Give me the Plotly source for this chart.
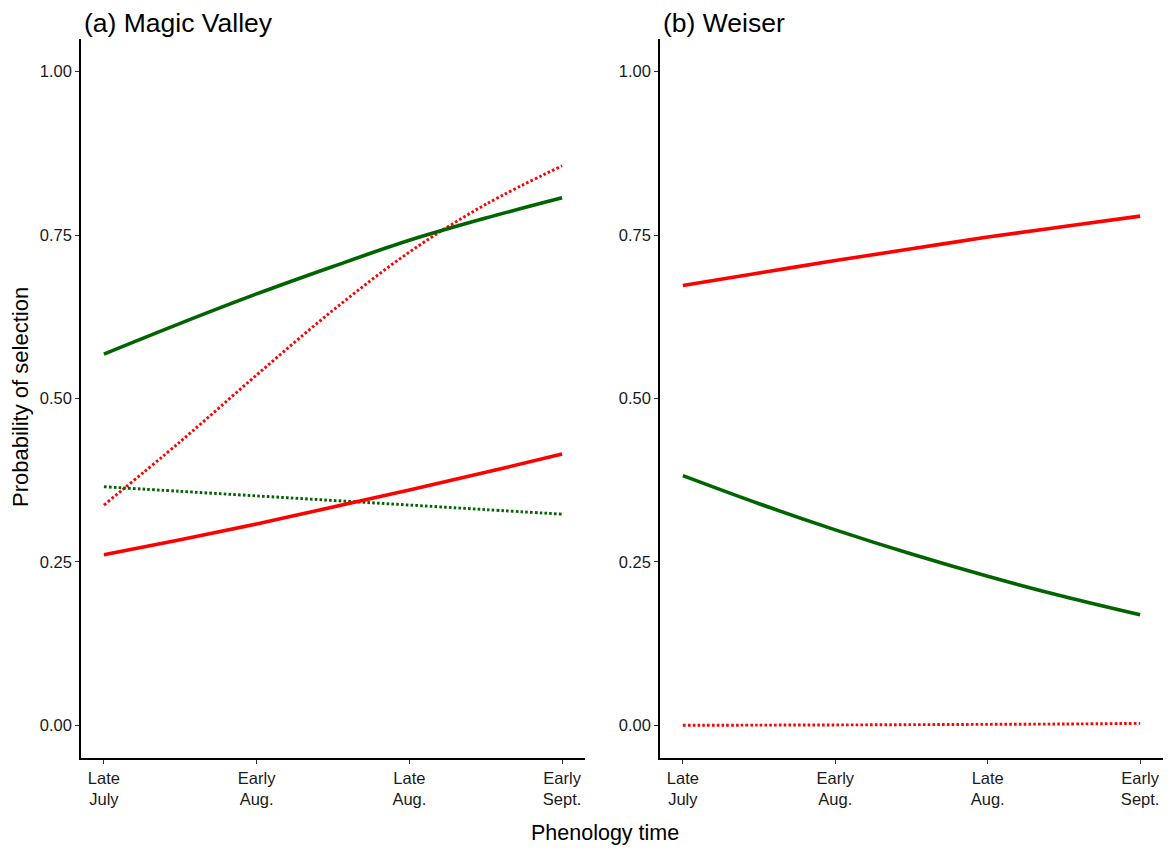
import plotly.graph_objects as go

# Phenology periods (x positions 1..4) with readings at half-period steps
phenology_x = [1, 1.5, 2, 2.5, 3, 3.5, 4]
tick_vals = [1, 2, 3, 4]
tick_text = ["Late<br>July", "Early<br>Aug.", "Late<br>Aug.", "Early<br>Sept."]
y_ticks = [0, 0.25, 0.5, 0.75, 1.0]
y_tick_text = ["0.00", "0.25", "0.50", "0.75", "1.00"]

# (a) Magic Valley
mv_green_solid = [0.568, 0.615, 0.660, 0.702, 0.742, 0.776, 0.807]
mv_green_dot = [0.365, 0.358, 0.351, 0.344, 0.337, 0.330, 0.323]
mv_red_solid = [0.261, 0.284, 0.308, 0.334, 0.360, 0.387, 0.415]
mv_red_dot = [0.337, 0.434, 0.536, 0.635, 0.724, 0.797, 0.856]

# (b) Weiser
we_green_solid = [0.382, 0.339, 0.299, 0.262, 0.228, 0.197, 0.169]
we_red_solid = [0.673, 0.692, 0.711, 0.729, 0.747, 0.763, 0.779]
we_red_dot = [0.000, 0.0003, 0.0006, 0.001, 0.0015, 0.002, 0.003]

GREEN = "#006400"
RED = "#FF0000"
FONT = "Liberation Sans, Arial, sans-serif"

W, H = 1171, 851

fig = go.Figure()


def add_line(y, color, dotted, xa, ya):
    if dotted:
        line = dict(color=color, width=2.9, dash="2.6px,2.2px", shape="spline")
    else:
        line = dict(color=color, width=3.6, shape="spline")
    fig.add_trace(go.Scatter(x=phenology_x, y=y, mode="lines", line=line,
                             xaxis=xa, yaxis=ya, showlegend=False,
                             hoverinfo="skip"))


add_line(mv_red_dot, RED, True, "x", "y")
add_line(mv_green_dot, GREEN, True, "x", "y")
add_line(mv_red_solid, RED, False, "x", "y")
add_line(mv_green_solid, GREEN, False, "x", "y")

add_line(we_red_dot, RED, True, "x2", "y2")
add_line(we_green_solid, GREEN, False, "x2", "y2")
add_line(we_red_solid, RED, False, "x2", "y2")

# panel geometry in pixels
left_a, right_a = 81, 585
left_b, right_b = 660, 1163
top_px, bottom_px = 39, 758

ydom = [1 - bottom_px / H, 1 - top_px / H]

xaxis_common = dict(
    range=[0.85, 4.15], tickvals=tick_vals, ticktext=tick_text,
    showgrid=False, zeroline=False, showline=True, linecolor="black",
    linewidth=1.5, ticks="outside", ticklen=4, tickcolor="#333333",
    tickwidth=1.2, tickfont=dict(family=FONT, size=16.5, color="#1a1a1a"),
    fixedrange=True,
)
yaxis_common = dict(
    range=[-0.05, 1.05], tickvals=y_ticks, ticktext=y_tick_text,
    showgrid=False, zeroline=False, showline=True, linecolor="black",
    linewidth=1.5, ticks="outside", ticklen=4, tickcolor="#333333",
    tickwidth=1.2, tickfont=dict(family=FONT, size=16.5, color="#1a1a1a"),
    domain=ydom, fixedrange=True,
)

fig.update_layout(
    width=W, height=H,
    margin=dict(l=0, r=0, t=0, b=0),
    paper_bgcolor="white", plot_bgcolor="white",
    xaxis=dict(xaxis_common, domain=[left_a / W, right_a / W], anchor="y"),
    yaxis=dict(yaxis_common, anchor="x"),
    xaxis2=dict(xaxis_common, domain=[left_b / W, right_b / W], anchor="y2"),
    yaxis2=dict(yaxis_common, anchor="x2"),
    annotations=[
        dict(text="(a) Magic Valley", x=(left_a + 1) / W, y=1 - 23 / H,
             xref="paper", yref="paper", xanchor="left", yanchor="middle",
             showarrow=False, font=dict(family=FONT, size=26.5, color="black")),
        dict(text="(b) Weiser", x=(left_b + 1) / W, y=1 - 23 / H,
             xref="paper", yref="paper", xanchor="left", yanchor="middle",
             showarrow=False, font=dict(family=FONT, size=26.5, color="black")),
        dict(text="Phenology time", x=605 / W, y=1 - 833 / H,
             xref="paper", yref="paper", xanchor="center", yanchor="middle",
             showarrow=False, font=dict(family=FONT, size=21.5, color="black")),
        dict(text="Probability of selection", x=21 / W, y=1 - 397 / H,
             xref="paper", yref="paper", xanchor="center", yanchor="middle",
             textangle=-90, showarrow=False,
             font=dict(family=FONT, size=22, color="black")),
    ],
)

fig.write_html("out.html")
